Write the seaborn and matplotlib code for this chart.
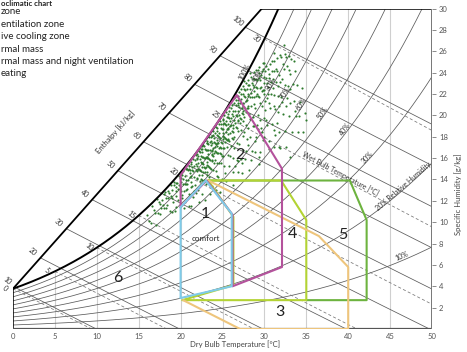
import numpy as np
import matplotlib
matplotlib.use("Agg")
import matplotlib.pyplot as plt
import seaborn as sns

# chart grid values
rh_levels = [10, 20, 30, 40, 50, 60, 70, 80, 90]
enthalpy_levels = [10, 20, 30, 40, 50, 60, 70, 80, 90, 100]
wet_bulb_levels = [0, 5, 10, 15, 20, 25, 30]
temp_ticks = [0, 5, 10, 15, 20, 25, 30, 35, 40, 45, 50]
hum_ticks = [2, 4, 6, 8, 10, 12, 14, 16, 18, 20, 22, 24, 26, 28, 30]
grid_temps = [5, 10, 15, 20, 25, 30, 35, 40, 45]

# enthalpy scale edge (dry bulb / humidity ends)
scale_temp = [0.0, 29.7]
scale_hum = [3.77, 30.0]

# relative humidity labels: level and dry bulb where it sits
rh_label_level = [100, 90, 80, 70, 60, 50, 40, 30]
rh_label_temp = [27.9, 29.5, 31.0, 32.7, 34.6, 37.2, 39.9, 42.6]

# zone outlines (dry bulb C, humidity g/kg)
comfort_t = [20.0, 20.0, 23.0, 26.1, 26.1, 20.0]
comfort_w = [2.9, 11.4, 13.9, 10.8, 4.0, 2.9]
ventilation_t = [20.0, 20.0, 26.7, 32.1, 32.1, 26.2, 26.2, 23.1, 20.0]
ventilation_w = [11.4, 14.4, 21.9, 15.0, 5.8, 4.0, 10.7, 13.9, 11.4]
evaporative_t = [23.3, 36.5, 40.0, 40.0, 27.1, 20.3]
evaporative_w = [13.9, 8.7, 5.8, 0.0, 0.0, 2.7]
mass_t = [23.3, 32.0, 35.0, 35.0, 20.2, 26.3, 26.3, 23.3]
mass_w = [13.9, 13.9, 10.2, 2.7, 2.7, 4.1, 10.5, 13.9]
night_t = [23.3, 40.2, 42.2, 42.2, 35.0]
night_w = [13.9, 13.9, 10.2, 2.7, 2.7]

# hourly climate observations (dry bulb C, relative humidity %)
obs = [
    (16.2, 88), (16.8, 93), (17.1, 80), (17.4, 96), (17.6, 86), (17.9, 91), (16.5, 85), (17.3, 88), (18.0, 98), (17.7, 90),
    (18.2, 94), (18.4, 88), (18.5, 97), (18.7, 82), (18.9, 91), (19.0, 95), (19.1, 86), (19.2, 99), (19.3, 79), (19.4, 92),
    (19.5, 88), (19.6, 96), (19.7, 84), (19.8, 93), (19.9, 90), (18.3, 86), (18.8, 99), (19.0, 80), (19.5, 81), (19.9, 97),
    (20.0, 94), (20.1, 88), (20.2, 97), (20.2, 83), (20.3, 91), (20.4, 86), (20.5, 95), (20.5, 79), (20.6, 92), (20.7, 98),
    (20.8, 85), (20.9, 90), (21.0, 96), (21.0, 81), (21.1, 93), (21.2, 87), (21.2, 99), (21.3, 90), (21.4, 84), (21.4, 95),
    (21.5, 77), (21.5, 92), (21.6, 88), (21.7, 97), (21.7, 83), (21.8, 91), (21.8, 94), (21.9, 86), (21.9, 99), (21.0, 74),
    (20.4, 76), (21.3, 73), (20.7, 89), (21.6, 80), (20.9, 96), (21.1, 91), (21.8, 78), (20.3, 99), (21.4, 93), (20.6, 86),
    (22.0, 92), (22.0, 85), (22.1, 97), (22.1, 78), (22.2, 89), (22.3, 94), (22.3, 82), (22.4, 99), (22.4, 87), (22.5, 91),
    (22.5, 74), (22.6, 96), (22.6, 84), (22.7, 89), (22.7, 93), (22.8, 80), (22.8, 98), (22.9, 86), (22.9, 91), (23.0, 95),
    (23.0, 77), (23.1, 88), (23.1, 83), (23.2, 97), (23.2, 90), (23.3, 85), (23.3, 93), (23.4, 79), (23.4, 99), (23.5, 87),
    (23.5, 92), (23.6, 82), (23.6, 96), (23.7, 89), (23.7, 73), (23.8, 94), (23.8, 85), (23.9, 91), (23.9, 80), (22.2, 71),
    (22.9, 69), (23.5, 70), (22.4, 95), (22.6, 90), (23.0, 86), (23.3, 89), (23.6, 76), (23.9, 97), (22.1, 93), (22.8, 87),
    (23.2, 81), (23.7, 91), (22.5, 98), (23.1, 94), (23.8, 88),
    (24.0, 93), (24.0, 83), (24.1, 88), (24.1, 97), (24.2, 78), (24.2, 91), (24.3, 86), (24.3, 95), (24.4, 81), (24.4, 89),
    (24.5, 93), (24.5, 74), (24.6, 87), (24.6, 98), (24.7, 84), (24.7, 91), (24.8, 79), (24.8, 95), (24.9, 88), (24.9, 71),
    (25.0, 92), (25.0, 85), (25.1, 97), (25.1, 81), (25.2, 89), (25.2, 76), (25.3, 94), (25.3, 86), (25.4, 90), (25.4, 68),
    (25.5, 83), (25.5, 96), (25.6, 88), (25.6, 79), (25.7, 92), (25.7, 85), (25.8, 73), (25.8, 97), (25.9, 87), (25.9, 90),
    (24.2, 69), (24.7, 66), (25.3, 72), (25.9, 77), (24.5, 90), (24.8, 86), (25.1, 93), (25.6, 91), (24.3, 75), (24.9, 82),
    (25.4, 87), (25.7, 95), (24.1, 92), (24.6, 80), (25.2, 84),
    (26.0, 90), (26.0, 81), (26.1, 94), (26.2, 86), (26.2, 75), (26.3, 92), (26.4, 83), (26.4, 97), (26.5, 88), (26.5, 70),
    (26.6, 91), (26.7, 79), (26.7, 85), (26.8, 94), (26.9, 87), (26.9, 66), (27.0, 89), (27.0, 77), (27.1, 93), (27.2, 82),
    (27.2, 86), (27.3, 90), (27.4, 73), (27.4, 95), (27.5, 84), (27.5, 88), (27.6, 79), (27.7, 92), (27.7, 68), (27.8, 86),
    (27.8, 81), (27.9, 90), (27.9, 75), (26.3, 63), (26.8, 71), (27.3, 64), (27.6, 96), (26.1, 87), (26.6, 95), (27.1, 85),
    (27.5, 78), (26.4, 78), (26.9, 83), (27.9, 94), (27.2, 70),
    (28.0, 87), (28.0, 79), (28.1, 91), (28.2, 83), (28.3, 74), (28.3, 89), (28.4, 85), (28.5, 68), (28.5, 93), (28.6, 80),
    (28.7, 87), (28.8, 76), (28.8, 90), (28.9, 82), (29.0, 71), (29.0, 86), (29.1, 88), (29.2, 78), (29.3, 84), (29.3, 63),
    (29.4, 90), (29.5, 75), (29.5, 81), (29.6, 86), (29.7, 70), (29.7, 79), (29.8, 84), (29.9, 74), (29.9, 88), (28.2, 62),
    (28.9, 66), (29.4, 60), (28.6, 92), (29.2, 73), (29.8, 67),
    (30.0, 83), (30.1, 76), (30.2, 86), (30.3, 70), (30.4, 80), (30.5, 64), (30.6, 84), (30.7, 74), (30.8, 78), (30.9, 68),
    (31.0, 82), (31.1, 60), (31.2, 76), (31.3, 71), (31.4, 79), (31.5, 66), (31.6, 74), (31.7, 58), (31.8, 70), (31.9, 77),
    (30.4, 88), (30.9, 85), (31.3, 63), (31.8, 62), (30.2, 72),
    (32.0, 72), (32.2, 66), (32.4, 74), (32.5, 60), (32.7, 69), (32.9, 63), (33.1, 70), (33.3, 57), (33.5, 65), (33.8, 60),
    (34.0, 55), (34.3, 62), (34.6, 53), (34.9, 57), (33.0, 51),
    (18.1, 99), (18.6, 95), (19.2, 97), (19.8, 99), (20.1, 96), (20.6, 99), (21.0, 98), (21.5, 99), (21.9, 97), (22.3, 98),
    (22.7, 99), (23.1, 98), (23.5, 96), (23.9, 99), (24.3, 98), (24.7, 99), (25.0, 98), (25.4, 99), (25.8, 99), (26.1, 98),
    (26.5, 99), (26.9, 97), (27.2, 98), (27.6, 99), (28.0, 97), (28.3, 98), (28.7, 96), (29.0, 95), (29.4, 94), (29.8, 93),
    (22.2, 86), (22.6, 88), (23.0, 91), (23.4, 84), (23.8, 90), (24.2, 87), (24.6, 92), (25.0, 89), (25.4, 93), (25.8, 84),
    (26.2, 89), (26.6, 86), (27.0, 92), (27.4, 87), (27.8, 90), (22.4, 83), (22.8, 92), (23.2, 86), (23.6, 94), (24.0, 88),
    (24.4, 92), (24.8, 83), (25.2, 95), (25.6, 86), (26.0, 93), (26.4, 90), (26.8, 88), (27.2, 94), (27.6, 85), (28.0, 91),
    (22.1, 90), (22.5, 94), (22.9, 84), (23.3, 96), (23.7, 86), (24.1, 90), (24.5, 85), (24.9, 94), (25.3, 88), (25.7, 90),
    (26.1, 84), (26.5, 93), (26.9, 91), (27.3, 88), (27.7, 95),
    (28.1, 86), (28.4, 90), (28.8, 84), (29.1, 91), (29.5, 86), (29.9, 82), (30.2, 90), (30.5, 86), (30.8, 82), (31.1, 87),
    (31.4, 83), (31.7, 80), (32.0, 84), (32.3, 79), (32.6, 81), (32.9, 76), (33.2, 78), (33.6, 73), (28.5, 88), (29.2, 85),
    (29.7, 91), (30.3, 79), (30.9, 88), (31.5, 86), (32.1, 77), (32.8, 72), (33.4, 70), (30.0, 92), (31.2, 89), (32.4, 83),
    (26.2, 69), (26.7, 72), (27.3, 68), (27.8, 71), (28.4, 65), (28.9, 70), (29.5, 64), (30.0, 67), (30.6, 61), (31.2, 65),
    (31.9, 57), (32.6, 55),
    (19.4, 97), (19.7, 91), (20.0, 99), (20.3, 94), (20.5, 90), (20.8, 97), (21.1, 95), (21.3, 97), (21.6, 94), (21.8, 99),
    (22.0, 96), (22.2, 99), (22.4, 92), (22.6, 99), (22.9, 96), (23.1, 99), (23.3, 91), (23.6, 98), (23.8, 97), (24.0, 95),
    (24.2, 99), (24.4, 96), (24.6, 94), (24.8, 97), (25.0, 96), (25.2, 99), (25.4, 95), (25.6, 97), (25.8, 94), (26.0, 97),
    (26.2, 95), (26.4, 99), (26.6, 97), (26.8, 96), (27.0, 98), (27.2, 96), (27.4, 98), (27.6, 93), (27.8, 97), (28.0, 95),
    (28.2, 94), (28.4, 96), (28.6, 94), (28.8, 93), (29.0, 92), (29.2, 94), (29.4, 92), (29.6, 90), (29.8, 91), (30.1, 89),
    (22.3, 88), (22.7, 85), (23.1, 90), (23.5, 83), (23.9, 87), (24.3, 91), (24.7, 87), (25.1, 90), (25.5, 86), (25.9, 92),
    (26.3, 87), (26.7, 90), (27.1, 87), (27.5, 91), (27.9, 87), (28.3, 92), (28.7, 89), (29.1, 86), (29.5, 89), (29.9, 86),
    (30.3, 84), (30.7, 88), (31.1, 84), (31.5, 82), (31.9, 85), (32.3, 86), (32.7, 78), (33.1, 74), (33.5, 76), (33.9, 68),
    (20.2, 85), (20.8, 88), (21.3, 84), (21.9, 90), (22.6, 81), (23.4, 88), (24.1, 84), (24.8, 89), (25.5, 91), (26.2, 83),
    (26.9, 94), (27.6, 89), (28.3, 81), (29.0, 89), (29.7, 84), (30.4, 82), (31.0, 79), (31.6, 77), (32.2, 81), (32.9, 80),
    (28.1, 72), (28.6, 77), (29.1, 75), (29.6, 72), (30.1, 79), (30.6, 76), (31.1, 73), (31.6, 69), (32.1, 70), (32.6, 67),
    (33.1, 66), (33.6, 62), (34.1, 59), (34.5, 65), (35.0, 55),
    (17.0, 90), (17.5, 94), (18.0, 88), (18.5, 92), (19.0, 89), (19.5, 94), (16.0, 94), (16.6, 98), (17.2, 99), (17.8, 95),
]
obs_temp = np.array([o[0] for o in obs])
obs_rh = np.array([o[1] for o in obs])

# legend block, as much as the frame shows of it
legend_title = "oclimatic chart"
legend_lines = ["zone", "entilation zone", "ive cooling zone", "rmal mass",
                "rmal mass and night ventilation", "eating"]


def p_ws(t):
    return 0.61094 * np.exp(17.625 * t / (t + 243.04))


def hum_rh(t, rh):
    pw = rh / 100.0 * p_ws(t)
    return 622.0 * pw / (101.325 - pw)


def hum_h(t, h):
    return (h - 1.006 * t) / (2.501 + 0.00186 * t)


def hum_wb(t, twb):
    ws = hum_rh(twb, 100) / 1000.0
    return 1000.0 * ((2501 - 2.326 * twb) * ws - 1.006 * (t - twb)) / (2501 + 1.86 * t - 4.186 * twb)


sns.set_style("white")
plt.rcParams['font.family'] = ['Lato', 'DejaVu Sans']

W, H = 467, 352
fig = plt.figure(figsize=(W / 100, H / 100), dpi=100)
ax = fig.add_axes([13 / W, 23 / H, 419 / W, 320.5 / H])
ax.set_xlim(0, 50)
ax.set_ylim(0, 30)
for s in ax.spines.values():
    s.set_visible(False)

line_c = '#5a5a5a'

# vertical dry bulb grid
for t in grid_temps:
    ax.plot([t, t], [0, min(hum_rh(t, 100), 30)], color='#cfcfcf', lw=0.8, zorder=0)

# relative humidity curves
tt = np.linspace(0, 50, 500)
for rh in rh_levels:
    w = hum_rh(tt, rh)
    m = w <= 30
    ax.plot(tt[m], w[m], color=line_c, lw=0.55, zorder=1)
w = hum_rh(tt, 100)
m = w <= 30
ax.plot(tt[m], w[m], color='black', lw=1.4, zorder=3)

# enthalpy lines from the scale edge
ts = np.linspace(scale_temp[0], scale_temp[1], 800)
ws_scale = np.interp(ts, scale_temp, scale_hum)
hs = 1.006 * ts + ws_scale * (2.501 + 0.00186 * ts)
h_start = {}
for h in enthalpy_levels:
    t0 = np.interp(h, hs, ts)
    w0 = np.interp(t0, scale_temp, scale_hum)
    h_start[h] = (t0, w0)
    t = np.linspace(t0, 50, 300)
    w = hum_h(t, h)
    m = w >= 0
    t, w = t[m], w[m]
    if h / 1.006 < 50:
        t = np.append(t, h / 1.006)
        w = np.append(w, 0)
    ax.plot(t, w, color=line_c, lw=0.55, zorder=1)

# wet bulb lines (dashed)
for twb in wet_bulb_levels:
    t = np.linspace(twb, 50, 300)
    w = hum_wb(t, twb)
    m = w >= 0
    ax.plot(t[m], w[m], color='#777777', lw=0.55, ls=(0, (4, 3)), zorder=1)

# chart frame
ax.plot(scale_temp, scale_hum, color='black', lw=1.3, zorder=3)
ax.plot([scale_temp[1], 50], [30, 30], color='black', lw=1.1, zorder=3)
ax.plot([0, 0], [0, scale_hum[0]], color='black', lw=1.1, zorder=3)
ax.plot([0, 50], [0, 0], color='#555555', lw=1.6, zorder=3)
ax.plot([50, 50], [0, 30], color='#777777', lw=1.4, zorder=3)

# climate observations
obs_hum = hum_rh(obs_temp, obs_rh)
sns.scatterplot(x=obs_temp, y=obs_hum, s=2.4, color='#2d7a2d', linewidth=0, ax=ax, zorder=2)

# zones
ax.plot(night_t, night_w, color='#6db33f', lw=1.5, zorder=4)
ax.plot(mass_t, mass_w, color='#b3d334', lw=1.5, zorder=4)
ax.plot(evaporative_t, evaporative_w, color='#eec57c', lw=1.5, zorder=4)
ax.plot(ventilation_t, ventilation_w, color='#b4529c', lw=1.5, zorder=5)
ax.plot(comfort_t, comfort_w, color='#7fcbe8', lw=1.5, zorder=6)

zone_txt = dict(fontsize=11.5, color='#222222', ha='center', va='center', zorder=7)
ax.text(23.0, 10.8, '1', **zone_txt)
ax.text(23.0, 8.5, 'comfort', fontsize=5.8, color='#222222', ha='center', va='center')
ax.text(27.1, 16.3, '2', **zone_txt)
ax.text(31.9, 1.6, '3', **zone_txt)
ax.text(33.4, 8.9, '4', **zone_txt)
ax.text(39.3, 8.8, '5', **zone_txt)
ax.text(12.5, 4.8, '6', **zone_txt)


def screen_angle(t1, w1, t2, w2):
    p1 = ax.transData.transform((t1, w1))
    p2 = ax.transData.transform((t2, w2))
    return np.degrees(np.arctan2(p2[1] - p1[1], p2[0] - p1[0]))


lab = dict(fontsize=5, color='#333333', ha='center', va='center', annotation_clip=False)
for h in enthalpy_levels:
    t0, w0 = h_start[h]
    ax.annotate(str(h), (t0, w0), xytext=(-5.5, 4.5), textcoords='offset points', rotation=-40, **lab)
for twb in wet_bulb_levels:
    ax.annotate(str(twb), (twb, hum_rh(twb, 100)), xytext=(-5.5, 0.5), textcoords='offset points',
                rotation=-40, **lab)
for rh, t in zip(rh_label_level, rh_label_temp):
    w = hum_rh(t, rh)
    ang = screen_angle(t - 0.3, hum_rh(t - 0.3, rh), t + 0.3, hum_rh(t + 0.3, rh))
    ax.annotate(f'{rh}%', (t, w), xytext=(-1.5, 1), textcoords='offset points', rotation=ang, **lab)

ang = screen_angle(46, hum_rh(46, 20), 47, hum_rh(47, 20))
ax.text(46.6, hum_rh(46.6, 20) + 0.3, '20% Relative Humidity', fontsize=5, color='#333333',
        rotation=ang, ha='center', va='center', rotation_mode='anchor')
ang = screen_angle(46, hum_rh(46, 10), 47, hum_rh(47, 10))
ax.text(46.4, hum_rh(46.4, 10) + 0.4, '10%', fontsize=5, color='#333333',
        rotation=ang, ha='center', va='center', rotation_mode='anchor')
ang = screen_angle(38, hum_wb(38, 25), 40, hum_wb(40, 25))
ax.text(39.1, hum_wb(39.1, 25) + 0.45, 'Wet Bulb Temperature [°C]', fontsize=5, color='#333333',
        rotation=ang, ha='center', va='center', rotation_mode='anchor')
ang = screen_angle(scale_temp[0], scale_hum[0], scale_temp[1], scale_hum[1])
ax.text(12.2, 18.4, 'Enthalpy [kJ/kg]', fontsize=5.5, color='#333333',
        rotation=ang, ha='center', va='center', rotation_mode='anchor')

# axes ticks
ax.set_xticks(temp_ticks)
ax.set_xticklabels([str(v) for v in temp_ticks])
ax.yaxis.tick_right()
ax.set_yticks(hum_ticks)
ax.set_yticklabels([str(v) for v in hum_ticks])
ax.tick_params(axis='x', length=0, pad=3, labelsize=5.5, labelcolor='#555555')
ax.tick_params(axis='y', length=3, width=0.6, color='#777777', pad=2, labelsize=5.5, labelcolor='#555555')

fig.text(235 / W, 1 - 344 / H, 'Dry Bulb Temperature [°C]', fontsize=5.5, color='#444444',
         ha='center', va='center')
fig.text(458 / W, 1 - 194 / H, 'Specific Humidity [g/kg]', fontsize=5.5, color='#444444',
         ha='center', va='center', rotation=90)

# legend block
fig.text(1 / W, 1 - 0.3 / H, legend_title, fontsize=5.6, fontweight='bold', color='#222222',
         ha='left', va='top')
for i, txt in enumerate(legend_lines):
    fig.text(1 / W, 1 - (12.0 + 12.4 * i) / H, txt, fontsize=7, color='#222222', ha='left', va='center')

fig.savefig('out.png', dpi=100)
